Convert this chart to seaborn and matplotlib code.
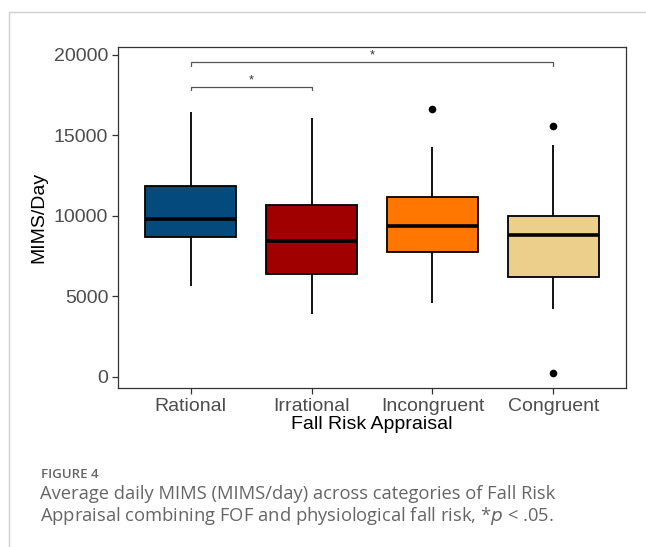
import numpy as np
import pandas as pd
import matplotlib
matplotlib.use("Agg")
import matplotlib.pyplot as plt
from matplotlib.lines import Line2D
import seaborn as sns

# Fall risk appraisal groups and their box summaries (MIMS/day)
categories = ["Rational", "Irrational", "Incongruent", "Congruent"]
whisker_low = [5630, 3880, 4600, 4190]
q1 = [8680, 6380, 7750, 6210]
median = [9780, 8450, 9380, 8780]
q3 = [11860, 10650, 11180, 9980]
whisker_high = [16460, 16090, 14290, 14370]
outlier_group = ["Incongruent", "Congruent", "Congruent"]
outlier_value = [16630, 15590, 250]
colors = ["#054a7c", "#a00000", "#ff7700", "#edcf8c"]

# Significance brackets: (from group, to group, height)
brackets = [("Rational", "Irrational", 18000), ("Rational", "Congruent", 19520)]

sns.set_theme(style="white")
plt.rcParams["font.family"] = ["Liberation Sans", "DejaVu Sans"]

summary = pd.DataFrame({
    "group": np.repeat(categories, 5),
    "value": np.ravel(np.column_stack([whisker_low, q1, median, q3, whisker_high])),
})
outliers = pd.DataFrame({"group": outlier_group, "value": outlier_value})

fig = plt.figure(figsize=(6.46, 5.47), dpi=100)
ax = fig.add_axes([0.1827, 0.2901, 0.7863, 0.6245])

sns.boxplot(
    data=summary, x="group", y="value", order=categories, hue="group",
    hue_order=categories, palette=colors, legend=False, whis=np.inf,
    width=0.75, saturation=1, ax=ax,
    boxprops=dict(edgecolor="black", linewidth=1.3),
    whiskerprops=dict(color="black", linewidth=1.3),
    capprops=dict(linewidth=0),
    medianprops=dict(color="black", linewidth=2.6),
    showfliers=False,
)
sns.stripplot(
    data=outliers, x="group", y="value", order=categories, jitter=False,
    color="black", size=5.5, ax=ax, zorder=5,
)

pos = {c: i for i, c in enumerate(categories)}
for a, b, h in brackets:
    x0, x1 = pos[a], pos[b]
    ax.plot([x0, x0, x1, x1], [h - 190, h, h, h - 190], color="#555555",
            linewidth=0.9, solid_joinstyle="miter")
    ax.text((x0 + x1) / 2, h + 60, "*", ha="center", va="bottom",
            fontsize=9, color="#333333")

ax.set_xlim(-0.6, 3.6)
ax.set_ylim(-720, 20500)
ax.set_yticks([0, 5000, 10000, 15000, 20000])
ax.set_xlabel("Fall Risk Appraisal", fontsize=14, color="black", labelpad=1)
ax.set_ylabel("MIMS/Day", fontsize=14, color="black", labelpad=5)
ax.tick_params(axis="both", which="both", length=4, width=0.9, color="#333333",
               labelsize=14, labelcolor="#4d4d4d", pad=3, bottom=True, left=True)
for s in ax.spines.values():
    s.set_color("#333333")
    s.set_linewidth(0.9)

# Page frame lines and caption
caption_font = ["Open Sans", "DejaVu Sans"]
fig.add_artist(Line2D([9 / 646, 9 / 646], [0, 1 - 12 / 547], color="#d0d0d0", linewidth=1))
fig.add_artist(Line2D([9 / 646, 1], [1 - 12 / 547, 1 - 12 / 547], color="#d0d0d0", linewidth=1))
fig.text(41 / 646, 1 - 474 / 547, "FIGURE 4", fontsize=9.5, fontweight="semibold",
         color="#666666", family=caption_font, va="center", ha="left")
fig.text(40 / 646, 1 - 494 / 547,
         "Average daily MIMS (MIMS/day) across categories of Fall Risk",
         fontsize=13.2, color="#666666", family=caption_font,
         va="center", ha="left")
fig.text(40 / 646, 1 - 516 / 547,
         "Appraisal combining FOF and physiological fall risk, *$p$ < .05.",
         fontsize=13.2, color="#666666", family=caption_font,
         va="center", ha="left")

fig.savefig("out.png", dpi=100, facecolor="white")
